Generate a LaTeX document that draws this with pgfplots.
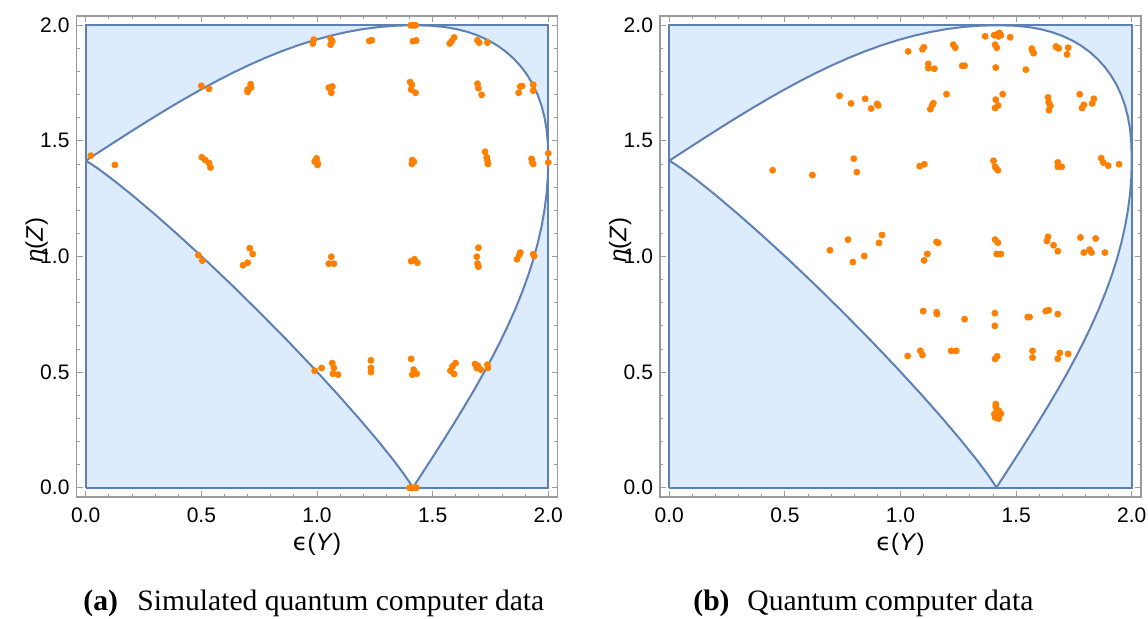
\documentclass[border=0pt]{standalone}
\usepackage{pgfplots}
\pgfplotsset{compat=1.18}
\usepackage{fontspec}
\setmainfont{Liberation Sans}
\newfontfamily\capfont{Liberation Serif}
\newfontfamily\dejavu{DejaVu Sans}
\definecolor{lightfill}{RGB}{221,236,252}
\definecolor{curveblue}{RGB}{94,129,181}
\definecolor{ptorange}{RGB}{255,128,0}
\definecolor{framegray}{RGB}{155,155,155}

\pgfplotsset{
  panel/.style={
    scale only axis, width=240.5pt, height=240.5pt,
    xmin=-0.04, xmax=2.04, ymin=-0.04, ymax=2.04,
    xtick={0,0.5,1,1.5,2}, ytick={0,0.5,1,1.5,2},
    minor x tick num=4, minor y tick num=4,
    tick align=inside,
    major tick length=3pt, minor tick length=1.7pt,
    axis line style={framegray, line width=0.6pt},
    every tick/.style={framegray, line width=0.5pt},
    /pgf/number format/assume math mode=true,
    xticklabel style={font=\fontsize{10.5}{12}\selectfont, yshift=-1.8pt, /pgf/number format/fixed, /pgf/number format/fixed zerofill, /pgf/number format/precision=1},
    yticklabel style={font=\fontsize{10.5}{12}\selectfont, /pgf/number format/fixed, /pgf/number format/fixed zerofill, /pgf/number format/precision=1},
    xlabel={{\dejavu ϵ}(\textit{Y})},
    ylabel={\textit{η}(\textit{Z})},
    xlabel style={font=\fontsize{12}{14}\selectfont, at={(axis description cs:0.5,-0.0985)}, anchor=center},
    ylabel style={font=\fontsize{12}{14}\selectfont, at={(axis description cs:-0.083,0.534)}, anchor=center},
  },
  region/.style={draw=curveblue, fill=white, line width=1pt, line join=round},
  square/.style={draw=curveblue, fill=lightfill, line width=0.9pt},
  pts/.style={only marks, mark=*, mark size=1.5pt, color=ptorange},
}

\pgfplotstableread{
x y
0 1.4142
0.0707 1.4602
0.1414 1.5059
0.2121 1.5510
0.2828 1.5952
0.3536 1.6384
0.4243 1.6802
0.4950 1.7203
0.5657 1.7585
0.6364 1.7947
0.7071 1.8284
0.7778 1.8597
0.8485 1.8881
0.9192 1.9137
0.9899 1.9362
1.0607 1.9554
1.1314 1.9713
1.2021 1.9838
1.2728 1.9928
1.3435 1.9982
1.4142 2.0000
1.4909 1.9981
1.5504 1.9926
1.6042 1.9833
1.6539 1.9704
1.7001 1.9539
1.7431 1.9339
1.7829 1.9103
1.8196 1.8834
1.8531 1.8531
1.8834 1.8196
1.9103 1.7829
1.9339 1.7431
1.9539 1.7001
1.9704 1.6539
1.9833 1.6042
1.9926 1.5504
1.9981 1.4909
2.0000 1.4142
1.9982 1.3435
1.9928 1.2728
1.9838 1.2021
1.9713 1.1314
1.9554 1.0607
1.9362 0.9899
1.9137 0.9192
1.8881 0.8485
1.8597 0.7778
1.8284 0.7071
1.7947 0.6364
1.7585 0.5657
1.7203 0.4950
1.6802 0.4243
1.6384 0.3536
1.5952 0.2828
1.5510 0.2121
1.5059 0.1414
1.4602 0.0707
1.4142 0
1.4045 0.0171
1.3756 0.0595
1.3282 0.1225
1.2636 0.2028
1.1835 0.2975
1.0900 0.4033
0.9856 0.5171
0.8730 0.6355
0.7551 0.7551
0.6355 0.8730
0.5171 0.9856
0.4033 1.0900
0.2975 1.1835
0.2028 1.2636
0.1225 1.3282
0.0595 1.3756
0.0171 1.4045
0 1.4142
}\boundary

\pgfplotstableread{
x y
0.986 1.938
0.982 1.921
0.500 1.738
0.533 1.725
0.713 1.745
0.715 1.730
0.700 1.722
0.700 1.712
0.022 1.436
0.126 1.396
0.502 1.429
0.517 1.417
0.533 1.404
0.539 1.385
0.998 1.424
0.990 1.411
1.003 1.404
1.002 1.396
0.709 1.036
0.722 1.011
0.700 0.973
0.680 0.962
0.487 1.006
0.504 0.982
1.059 1.942
1.066 1.931
1.059 1.916
1.226 1.932
1.237 1.935
1.405 2.000
1.412 2.000
1.420 2.000
1.427 2.000
1.415 1.931
1.429 1.934
1.574 1.921
1.582 1.931
1.593 1.947
1.694 1.935
1.701 1.925
1.737 1.925
1.051 1.730
1.066 1.735
1.062 1.708
1.403 1.754
1.410 1.743
1.407 1.722
1.426 1.708
1.694 1.747
1.698 1.728
1.712 1.699
1.879 1.735
1.872 1.708
1.887 1.737
1.935 1.743
1.935 1.717
2.000 1.446
2.000 1.407
1.412 1.417
1.419 1.410
1.410 1.400
1.727 1.453
1.734 1.429
1.737 1.414
1.739 1.400
1.928 1.422
1.931 1.407
1.935 1.400
1.062 0.999
1.051 0.969
1.073 0.969
1.407 0.980
1.422 0.988
1.434 0.973
1.698 1.038
1.691 0.999
1.694 0.969
1.698 0.956
1.865 0.988
1.875 1.007
1.879 1.017
1.935 1.010
1.939 1.002
0.990 0.506
1.020 0.518
1.066 0.539
1.073 0.518
1.069 0.493
1.091 0.489
1.233 0.551
1.233 0.518
1.233 0.500
1.407 0.557
1.418 0.511
1.412 0.489
1.431 0.493
1.577 0.506
1.586 0.525
1.599 0.539
1.593 0.492
1.683 0.535
1.695 0.528
1.691 0.518
1.708 0.511
1.737 0.532
1.739 0.518
1.400 0.000
1.410 0.000
1.420 0.000
1.430 0.000
}\simdata

\pgfplotstableread{
x y
0.736 1.695
0.786 1.662
0.847 1.682
0.899 1.660
0.904 1.653
0.873 1.640
0.798 1.423
0.811 1.365
0.447 1.373
0.619 1.352
0.920 1.093
0.907 1.059
0.773 1.073
0.695 1.027
0.794 0.976
0.843 1.002
1.033 1.887
1.095 1.896
1.101 1.905
1.228 1.916
1.237 1.903
1.366 1.952
1.405 1.957
1.416 1.960
1.428 1.967
1.424 1.952
1.434 1.957
1.409 1.916
1.416 1.903
1.474 1.948
1.568 1.899
1.576 1.879
1.570 1.890
1.672 1.908
1.684 1.900
1.677 1.904
1.725 1.903
1.720 1.874
1.120 1.833
1.120 1.815
1.146 1.812
1.267 1.825
1.277 1.825
1.412 1.817
1.542 1.808
1.199 1.702
1.142 1.663
1.138 1.656
1.129 1.637
1.412 1.678
1.422 1.653
1.409 1.642
1.442 1.702
1.638 1.688
1.641 1.666
1.648 1.652
1.642 1.633
1.775 1.702
1.793 1.656
1.785 1.642
1.829 1.662
1.836 1.682
1.083 1.391
1.103 1.399
1.402 1.414
1.409 1.388
1.414 1.381
1.421 1.373
1.680 1.407
1.680 1.388
1.697 1.388
1.868 1.425
1.877 1.406
1.898 1.393
1.945 1.399
1.156 1.063
1.163 1.059
1.409 1.073
1.421 1.060
1.638 1.085
1.633 1.067
1.662 1.049
1.680 1.023
1.778 1.082
1.844 1.078
1.818 1.030
1.793 1.017
1.826 1.017
1.884 1.017
1.116 1.011
1.102 0.983
1.416 1.011
1.434 1.011
1.098 0.764
1.156 0.759
1.158 0.751
1.277 0.729
1.408 0.755
1.408 0.700
1.550 0.738
1.558 0.738
1.628 0.764
1.641 0.768
1.680 0.751
1.031 0.570
1.086 0.592
1.095 0.574
1.219 0.592
1.241 0.592
1.409 0.557
1.418 0.568
1.571 0.592
1.571 0.563
1.689 0.583
1.680 0.558
1.725 0.579
1.412 0.362
1.412 0.351
1.416 0.336
1.425 0.333
1.434 0.320
1.406 0.318
1.421 0.318
1.409 0.304
1.425 0.299
1.416 0.325
}\qcdata

\begin{document}
\begin{tikzpicture}
\path[use as bounding box] (0,0) rectangle (574pt,309pt);

\begin{axis}[panel, at={(38.25pt,60.5pt)}, anchor=south west]
\addplot[square] coordinates {(0,0) (2,0) (2,2) (0,2) (0,0)};
\addplot[region] table {\boundary};
\addplot[pts] table {\simdata};
\end{axis}

\begin{axis}[panel, at={(330pt,60.5pt)}, anchor=south west]
\addplot[square] coordinates {(0,0) (2,0) (2,2) (0,2) (0,0)};
\addplot[region] table {\boundary};
\addplot[pts] table {\qcdata};
\end{axis}

\node[anchor=base west, inner sep=0, font=\capfont\fontsize{14.8}{18}\selectfont] at (41.5pt,4pt) {\textbf{(a)}};
\node[anchor=base west, inner sep=0, font=\capfont\fontsize{14.8}{18}\selectfont] at (68.5pt,4pt) {Simulated quantum computer data};
\node[anchor=base west, inner sep=0, font=\capfont\fontsize{14.8}{18}\selectfont] at (346.5pt,4pt) {\textbf{(b)}};
\node[anchor=base west, inner sep=0, font=\capfont\fontsize{14.8}{18}\selectfont] at (373.5pt,4pt) {Quantum computer data};
\end{tikzpicture}
\end{document}
